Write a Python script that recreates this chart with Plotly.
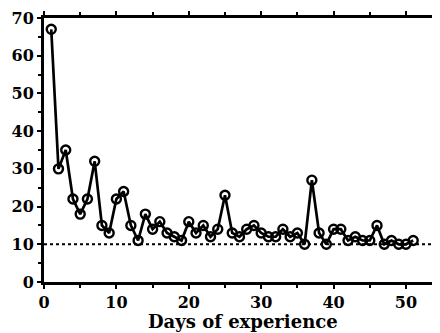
import plotly.graph_objects as go

days = list(range(1, 52))
values = [67, 30, 35, 22, 18, 22, 32, 15, 13, 22,
          24, 15, 11, 18, 14, 16, 13, 12, 11, 16,
          13, 15, 12, 14, 23, 13, 12, 14, 15, 13,
          12, 12, 14, 12, 13, 10, 27, 13, 10, 14,
          14, 11, 12, 11, 11, 15, 10, 11, 10, 10, 11]
x_ticks = [0, 10, 20, 30, 40, 50]
y_ticks = [0, 10, 20, 30, 40, 50, 60, 70]
criterion = 10

fig = go.Figure()
fig.add_trace(go.Scatter(
    x=days, y=values, mode="lines+markers",
    line=dict(color="black", width=2.7),
    marker=dict(symbol="circle-open", size=9, color="black", line=dict(width=2.4)),
    showlegend=False, cliponaxis=False,
))
fig.add_hline(y=criterion, line=dict(color="black", width=2, dash="dot"))

# page body has an 8px default margin, so the figure is sized/offset to compensate
fig.update_layout(
    width=432, height=325,
    margin=dict(l=36, r=0, t=10, b=51, autoexpand=False),
    paper_bgcolor="white", plot_bgcolor="white",
    font=dict(family="DejaVu Serif", size=16, color="black"),
    annotations=[dict(
        text="<b>Days of experience</b>", xref="paper", yref="paper",
        x=0.5025, y=-0.148, xanchor="center", yanchor="middle", showarrow=False,
        font=dict(family="DejaVu Serif", size=18, color="black"),
    )],
)
fig.update_xaxes(
    range=[0, 54.7], tickvals=x_ticks,
    ticktext=[f"<b>{v}</b>" for v in x_ticks],
    showgrid=False, zeroline=False, automargin=False,
    showline=True, linecolor="black", linewidth=3,
    mirror="ticks", ticks="outside", ticklen=4, tickwidth=2, tickcolor="black",
    minor=dict(ticks="outside", dtick=5, tick0=0, ticklen=3, tickwidth=2, tickcolor="black"),
    tickfont=dict(family="DejaVu Serif", size=16, color="black"),
    ticklabeloverflow="allow",
)
fig.update_yaxes(
    range=[0, 70], tickvals=y_ticks,
    ticktext=[f"<b>{v}</b>" for v in y_ticks],
    showgrid=False, zeroline=False, automargin=False,
    showline=True, linecolor="black", linewidth=3,
    ticks="outside", ticklen=4, tickwidth=2, tickcolor="black",
    minor=dict(ticks="outside", dtick=5, tick0=0, ticklen=3, tickwidth=2, tickcolor="black"),
    tickfont=dict(family="DejaVu Serif", size=16, color="black"),
    ticklabeloverflow="allow",
)

fig.write_html("out.html")
